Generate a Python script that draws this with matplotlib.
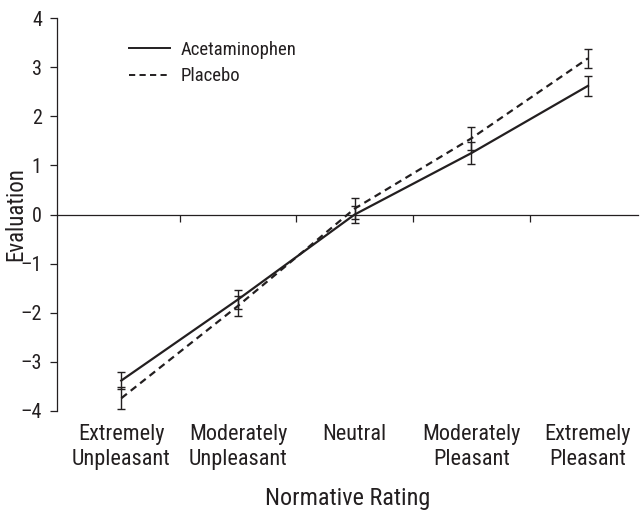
import matplotlib
matplotlib.use("Agg")
from matplotlib import pyplot as plt
from matplotlib import transforms, font_manager
from matplotlib.lines import Line2D

# pick a narrow sans if one is there
names = set(f.name for f in font_manager.fontManager.ttflist)
fam = 'DejaVu Sans'
for cand in ['Roboto Condensed', 'Liberation Sans Narrow', 'Open Sans Condensed', 'Roboto', 'Liberation Sans']:
    if cand in names:
        fam = cand
        break
plt.rcParams['font.family'] = [fam, 'DejaVu Sans']

categories = ["Extremely\nUnpleasant", "Moderately\nUnpleasant", "Neutral",
              "Moderately\nPleasant", "Extremely\nPleasant"]
acet_mean = [-3.38, -1.73, 0.00, 1.25, 2.62]
acet_err = [0.17, 0.20, 0.18, 0.22, 0.20]
plac_mean = [-3.74, -1.86, 0.12, 1.55, 3.18]
plac_err = [0.22, 0.20, 0.22, 0.23, 0.20]
yticks = list(range(-4, 5))

x = list(range(len(categories)))
ink = '#231f20'
dash = (0, (3.2, 2.2))

fig = plt.figure(figsize=(6.42, 5.16), dpi=100)
ax = fig.add_axes([0.089, 0.2035, 0.905, 0.7615])

ax.errorbar(x, acet_mean, yerr=acet_err, color=ink, lw=1.6, ls='-',
            elinewidth=1.0, capsize=3, capthick=1.0)
ax.errorbar(x, plac_mean, yerr=plac_err, color=ink, lw=1.6, ls=dash,
            elinewidth=1.0, capsize=3, capthick=1.0)

ax.set_xlim(-0.55, 4.43)
ax.set_ylim(-4, 4)
ax.set_yticks(yticks)
ax.set_yticklabels([str(v).replace('-', '\u2013') for v in yticks])

ax.spines['top'].set_visible(False)
ax.spines['right'].set_visible(False)
ax.spines['bottom'].set_position(('data', 0))
for s in ['left', 'bottom']:
    ax.spines[s].set_linewidth(0.9)
    ax.spines[s].set_color(ink)

ax.set_xticks([0.5, 1.5, 2.5, 3.5])
ax.set_xticklabels([])
ax.tick_params(axis='x', direction='out', length=5, width=0.9, color=ink)
ax.tick_params(axis='y', direction='out', length=5, width=0.9, color=ink,
               labelsize=14.5, pad=6, labelcolor=ink)

trans = transforms.blended_transform_factory(ax.transData, ax.transAxes)
for xi, lab in zip(x, categories):
    ax.text(xi, -0.034, lab, transform=trans, ha='center', va='top',
            fontsize=16, color=ink, linespacing=1.25)

ax.text(0.5, -0.222, 'Normative Rating', transform=ax.transAxes, ha='center',
        va='center', fontsize=17.5, color=ink)
fig.text(16 / 642, 1 - 214 / 516, 'Evaluation', rotation=90, ha='center',
         va='center', fontsize=16.5, color=ink)

handles = [Line2D([], [], color=ink, lw=1.4, ls='-'),
           Line2D([], [], color=ink, lw=1.4, ls=dash)]
leg = ax.legend(handles, ['Acetaminophen', 'Placebo'], loc='upper left',
                bbox_to_anchor=(0.095, 0.985), frameon=False, fontsize=13.5,
                handlelength=2.2, handletextpad=0.55, labelspacing=0.45)
for t in leg.get_texts():
    t.set_color(ink)

fig.savefig('out.png', dpi=100)
